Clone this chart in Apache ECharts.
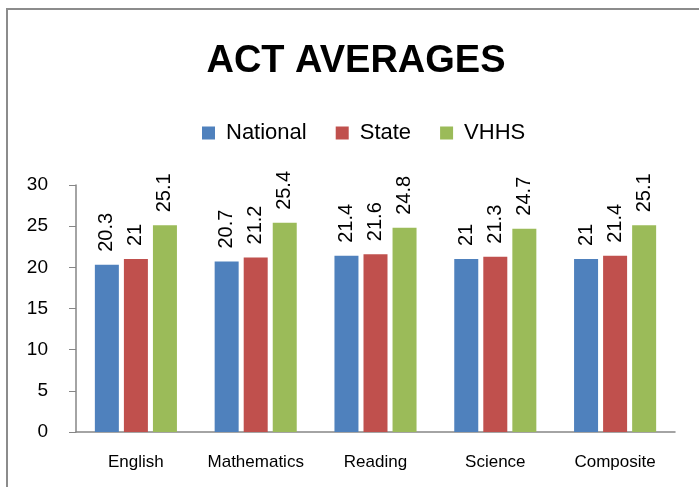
<!DOCTYPE html>
<html>
<head>
<meta charset="utf-8">
<script src="https://cdn.jsdelivr.net/npm/echarts@6/dist/echarts.min.js"></script>
<style>
html,body{margin:0;padding:0;background:#fff;}
#act_chart{width:699px;height:487px;}
</style>
</head>
<body>
<div id="act_chart"></div>
<script>
// ACT averages by subject
var subjects = ['English', 'Mathematics', 'Reading', 'Science', 'Composite'];
var nationalScores = [20.3, 20.7, 21.4, 21, 21];
var stateScores = [21, 21.2, 21.6, 21.3, 21.4];
var vhhsScores = [25.1, 25.4, 24.8, 24.7, 25.1];
var seriesNames = ['National', 'State', 'VHHS'];

var fontName = '"Liberation Sans", Arial, sans-serif';

function barSeries(name, values, color) {
    return {
        name: name,
        type: 'bar',
        data: values,
        barWidth: 24,
        barGap: '21%',
        itemStyle: {color: color},
        label: {
            show: true,
            position: 'top',
            rotate: 90,
            align: 'left',
            verticalAlign: 'middle',
            distance: 13,
            fontFamily: fontName,
            fontSize: 20,
            color: '#000'
        }
    };
}

var myChart = echarts.init(document.getElementById('act_chart'));

var option = {
    animation: false,
    backgroundColor: '#fff',
    title: {
        text: 'ACT AVERAGES',
        left: 351,
        textAlign: 'center',
        top: 38,
        textStyle: {
            fontFamily: fontName,
            fontWeight: 'bold',
            fontSize: 38,
            color: '#000'
        }
    },
    legend: {
        data: seriesNames,
        left: 197,
        top: 117,
        itemWidth: 13,
        itemHeight: 13,
        itemGap: 29,
        icon: 'rect',
        textStyle: {
            fontFamily: fontName,
            fontSize: 22,
            color: '#000',
            padding: [0, 0, 0, 6]
        }
    },
    graphic: [{
        type: 'rect',
        shape: {x: 7, y: 9, width: 800, height: 600},
        style: {fill: 'none', stroke: '#8c8c8c', lineWidth: 2},
        silent: true
    }],
    grid: {
        left: 76,
        right: 24,
        top: 185,
        bottom: 55
    },
    xAxis: {
        type: 'category',
        data: subjects,
        axisLine: {lineStyle: {color: '#868686', width: 1.5}},
        axisTick: {show: false},
        axisLabel: {
            interval: 0,
            margin: 22,
            fontFamily: fontName,
            fontSize: 17,
            color: '#000'
        }
    },
    yAxis: {
        type: 'value',
        min: 0,
        max: 30,
        interval: 5,
        splitLine: {show: false},
        axisLine: {show: true, lineStyle: {color: '#868686', width: 1.5}},
        axisTick: {show: true, length: 7, lineStyle: {color: '#868686'}},
        axisLabel: {
            margin: 28,
            fontFamily: fontName,
            fontSize: 19,
            color: '#000'
        }
    },
    series: [
        barSeries(seriesNames[0], nationalScores, '#4F81BD'),
        barSeries(seriesNames[1], stateScores, '#C0504D'),
        barSeries(seriesNames[2], vhhsScores, '#9BBB59')
    ]
};

myChart.setOption(option);
</script>
</body>
</html>
